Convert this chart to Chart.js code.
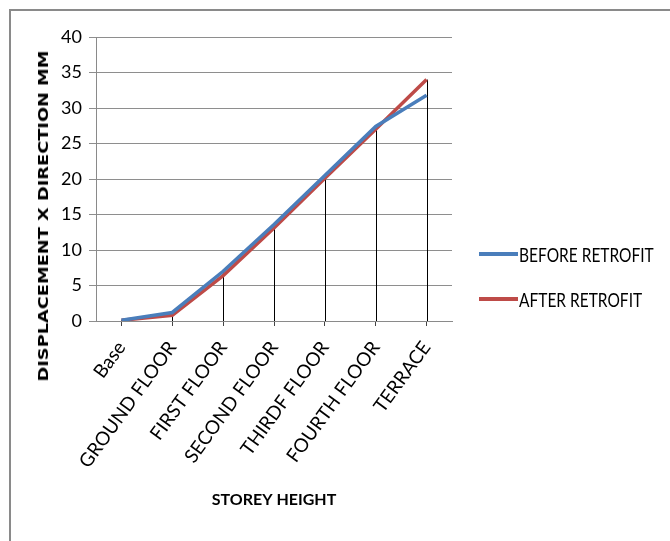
<!DOCTYPE html>
<html>
<head>
<meta charset="utf-8">
<script src="https://cdn.jsdelivr.net/npm/chart.js@4.4.1/dist/chart.umd.min.js"></script>
<style>
  html,body{margin:0;padding:0;background:#fff;}
  #wrap{position:relative;width:670px;height:541px;overflow:hidden;}
  #frame{position:absolute;left:9px;top:9px;width:700px;height:600px;border-left:2px solid #8a8a8a;border-top:2px solid #8a8a8a;}
  #chart{position:absolute;left:0;top:0;}
  #yTitle{position:absolute;left:43px;top:216px;white-space:nowrap;font-family:"DejaVu Sans";font-weight:bold;font-size:14px;color:#000;
    transform:translate(-50%,-50%) rotate(-90deg) scaleX(1.27);}
  .leg{position:absolute;left:479px;height:20px;display:flex;align-items:center;}
  .leg .sw{width:39px;height:4px;}
  .leg .tx{margin-left:1px;font-family:Lato;font-size:15.5px;color:#000;transform:scaleY(1.3);transform-origin:left center;white-space:nowrap;}
</style>
</head>
<body>
<div id="wrap">
  <div id="frame"></div>
  <canvas id="chart" width="670" height="541"></canvas>
  <div id="yTitle">DISPLACEMENT X DIRECTION MM</div>
  <div id="legend"></div>
</div>
<script>
// Data
const storeys=['Base','GROUND FLOOR','FIRST FLOOR','SECOND FLOOR','THIRDF FLOOR','FOURTH FLOOR','TERRACE'];
const beforeRetrofit=[0.1,1.2,7.0,13.6,20.5,27.4,31.8];
const afterRetrofit=[0.1,0.8,6.4,13.1,20.1,27.0,34.0];
const seriesNames=['BEFORE RETROFIT','AFTER RETROFIT'];
const seriesColors=['#4a7ebb','#be4b48'];
const yTicks=[0,5,10,15,20,25,30,35,40];

// Legend (html)
const legendEl=document.getElementById('legend');
seriesNames.forEach((name,i)=>{
  const item=document.createElement('div');
  item.className='leg';
  item.style.top=(244+i*45)+'px';
  item.innerHTML=`<div class="sw" style="background:${seriesColors[i]}"></div><div class="tx">${name}</div>`;
  legendEl.appendChild(item);
});

// Drop lines from the highest point down to the axis
const dropLines={
  id:'dropLines',
  beforeDatasetsDraw(chart){
    const {ctx,scales:{x,y}}=chart;
    ctx.save();
    ctx.strokeStyle='#000';
    ctx.lineWidth=1;
    storeys.forEach((s,i)=>{
      const top=Math.max(beforeRetrofit[i],afterRetrofit[i]);
      const px=Math.round(x.getPixelForValue(i))+0.5;
      ctx.beginPath();
      ctx.moveTo(px,y.getPixelForValue(top));
      ctx.lineTo(px,y.getPixelForValue(0));
      ctx.stroke();
    });
    ctx.restore();
  }
};

new Chart(document.getElementById('chart'),{
  type:'line',
  data:{
    labels:storeys,
    datasets:[
      {label:seriesNames[0],data:beforeRetrofit,borderColor:seriesColors[0],backgroundColor:seriesColors[0],borderWidth:3.5,pointRadius:0,tension:0},
      {label:seriesNames[1],data:afterRetrofit,borderColor:seriesColors[1],backgroundColor:seriesColors[1],borderWidth:3.5,pointRadius:0,tension:0}
    ]
  },
  options:{
    responsive:false,
    animation:false,
    layout:{padding:{left:0,right:218,top:37,bottom:0}},
    plugins:{legend:{display:false},tooltip:{enabled:false}},
    scales:{
      x:{
        offset:true,
        grid:{offset:false,drawOnChartArea:false,drawTicks:true,tickLength:5,color:'#444'},
        border:{display:true,color:'#8a8a8a'},
        ticks:{color:'#000',font:{family:'Lato',size:19},minRotation:54,maxRotation:54,padding:11,autoSkip:false},
        title:{display:true,text:'STOREY HEIGHT',color:'#000',font:{family:'Lato',size:16,weight:'bold'},padding:{top:0,bottom:32}},
        afterFit(scale){scale.height=220;}
      },
      y:{
        min:0,max:40,
        afterBuildTicks(scale){scale.ticks=yTicks.map(v=>({value:v}));},
        grid:{color:'#8e8e8e',tickLength:7},
        border:{display:true,color:'#8a8a8a'},
        ticks:{color:'#000',font:{family:'Lato',size:18},padding:7},
        afterFit(scale){scale.width=96;}
      }
    }
  },
  plugins:[dropLines]
});
</script>
</body>
</html>
